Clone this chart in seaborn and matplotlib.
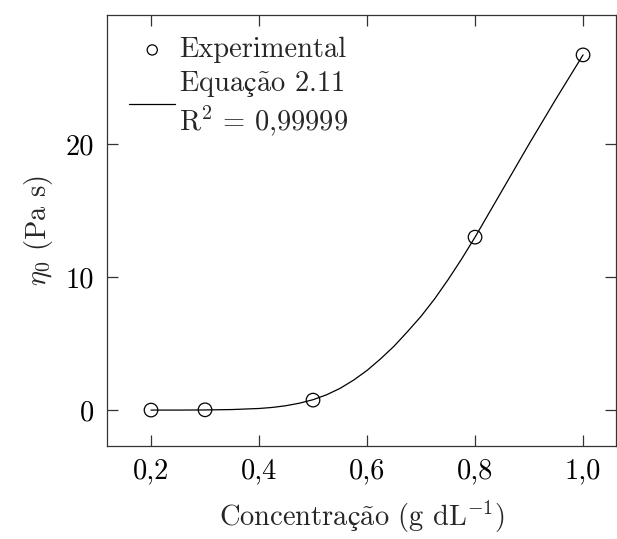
import matplotlib
matplotlib.use("Agg")
import matplotlib.pyplot as plt
import seaborn as sns
import pandas as pd

# Experimental data
conc_exp = [0.2, 0.3, 0.5, 0.8, 1.0]
eta_exp = [0.0, 0.02, 0.75, 13.0, 26.7]

# Fitted curve (Equação 2.11)
conc_fit = [0.2, 0.25, 0.3, 0.35, 0.4, 0.425, 0.45, 0.475, 0.5, 0.525, 0.55,
            0.575, 0.6, 0.625, 0.65, 0.675, 0.7, 0.725, 0.75, 0.775, 0.8,
            0.825, 0.85, 0.875, 0.9, 0.925, 0.95, 0.975, 1.0]
eta_fit = [0.0, 0.0, 0.01, 0.04, 0.12, 0.2, 0.33, 0.52, 0.78, 1.15, 1.63,
           2.25, 2.98, 3.85, 4.8, 5.9, 7.05, 8.35, 9.8, 11.35, 13.0,
           14.75, 16.5, 18.25, 20.0, 21.7, 23.4, 25.05, 26.7]

xticks = [0.2, 0.4, 0.6, 0.8, 1.0]
xticklabels = ["0,2", "0,4", "0,6", "0,8", "1,0"]
yticks = [0, 10, 20]
yticklabels = ["0", "10", "20"]

sns.set_theme(style="ticks")
plt.rcParams["font.family"] = ["cmr10", "DejaVu Serif"]
plt.rcParams["mathtext.fontset"] = "cm"
plt.rcParams["axes.formatter.use_mathtext"] = True
plt.rcParams["axes.unicode_minus"] = False

fs = 20.5
fig = plt.figure(figsize=(6.17, 5.39), dpi=100)
ax = fig.add_axes([107 / 617, 93 / 539, 509 / 617, 431 / 539])

df_fit = pd.DataFrame({"c": conc_fit, "eta": eta_fit})
df_exp = pd.DataFrame({"c": conc_exp, "eta": eta_exp})

fit_label = "Equa$\\mathrm{ç\\~a}$o 2.11\nR$^2$ = 0,99999"
sns.lineplot(data=df_fit, x="c", y="eta", ax=ax, color="black", lw=0.9,
             label=fit_label, zorder=2)
sns.scatterplot(data=df_exp, x="c", y="eta", ax=ax, marker="o", s=95,
                facecolor="none", edgecolor="black", linewidth=0.9,
                label="Experimental", zorder=3)

ax.set_xlim(0.1185, 1.061)
ax.set_ylim(-2.7, 29.7)
ax.set_xticks(xticks)
ax.set_xticklabels(xticklabels)
ax.set_yticks(yticks)
ax.set_yticklabels(yticklabels)
ax.tick_params(direction="in", length=8, width=0.9, top=True, right=True,
               labelsize=fs, colors="#333333", labelcolor="black", pad=9)
for sp in ax.spines.values():
    sp.set_linewidth(0.9)
    sp.set_color("#333333")

ax.set_xlabel("Concentra$\\mathrm{ç\\~a}$o (g dL$^{-1}$)", fontsize=fs, labelpad=10)
ax.set_ylabel(r"$\eta_0$ (Pa s)", fontsize=fs, labelpad=8)

handles, labels = ax.get_legend_handles_labels()
i_exp = labels.index("Experimental")
order = [i_exp, 1 - i_exp]
leg = ax.legend([handles[i] for i in order], [labels[i] for i in order],
                loc="upper left", frameon=False, fontsize=fs,
                handlelength=1.6, handletextpad=0.15, borderaxespad=0.3,
                labelspacing=0.2, markerscale=0.75,
                bbox_to_anchor=(0.005, 0.995))

fig.savefig("out.png", dpi=100)
